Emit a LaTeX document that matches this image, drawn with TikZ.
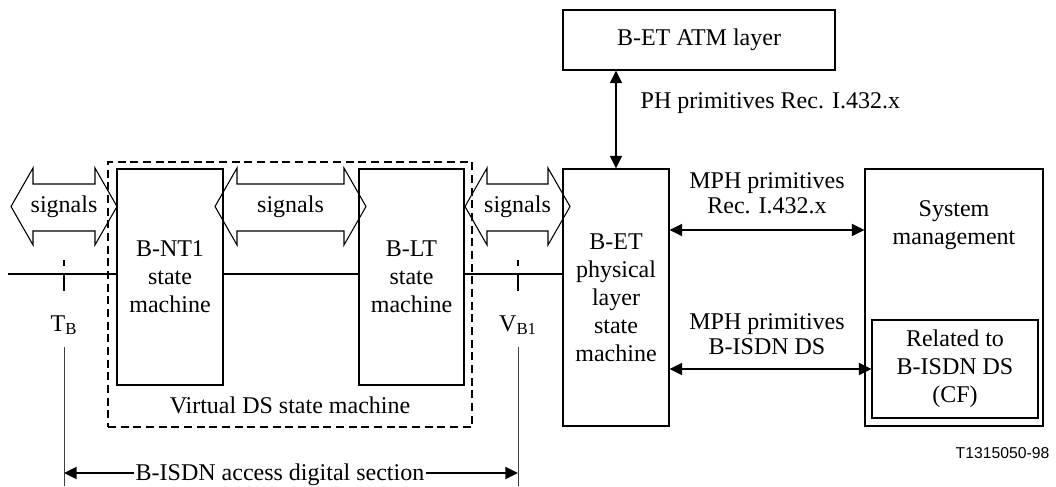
\documentclass[tikz,border=0pt]{standalone}
\usepackage{fontspec}
\setmainfont{Liberation Serif}
\newfontfamily\figsans{Liberation Sans}
\usetikzlibrary{arrows.meta}
\tikzset{
  box/.style={draw, line width=0.8pt, align=center, inner sep=0pt, font=\fontsize{18}{21}\selectfont},
  txt/.style={align=center, font=\fontsize{18}{21}\selectfont},
  prim/.style={align=center, font=\fontsize{18}{19}\selectfont},
  dbl/.style={{Triangle[length=9.5pt,width=9pt]}-{Triangle[length=9.5pt,width=9pt]}, line width=1.5pt},
  sig/.style={line width=0.8pt, line join=miter},
  guide/.style={line width=0.6pt, black!75},
}

\begin{document}
\begin{tikzpicture}[x=0.75pt, y=-0.75pt]
\useasboundingbox (0,0) rectangle (1056,486);
% virtual DS: B-NT1 and B-LT
\node[box, dash pattern=on 6pt off 3.5pt, line width=1.5pt, minimum width=273pt, minimum height=198.75pt] (vds) at (290,294.5) {};
\node[txt] (vdstxt) at (290,405) {Virtual DS state machine};
\node[box, fill=white, minimum width=79.5pt, minimum height=162pt] (bnt1) at (170,277) {B-NT1\\state\\machine};
\node[box, fill=white, minimum width=78.75pt, minimum height=162pt] (blt) at (411.5,277) {B-LT\\state\\machine};
% B-ET side
\node[box, minimum width=79.5pt, minimum height=192.75pt] (bet) at (616,297.5) {B-ET\\physical\\layer\\state\\machine};
\node[box, minimum width=204pt, minimum height=45pt] (atm) at (699,40) {B-ET ATM layer};
\node[box, minimum width=133.5pt, minimum height=192.75pt] (sysm) at (954,297.5) {};
\node[txt] (sysmtxt) at (954,225) {System\\management};
\node[box, minimum width=124.5pt, minimum height=73.5pt] (rel) at (955,369) {Related to\\B-ISDN DS\\(CF)};
% primitives
\draw[dbl] (bet.north) -- (bet.north |- atm.south);
\node[txt, anchor=west] (ph) at (636,103) {PH primitives Rec. I.432.x};
\coordinate (mph) at (767,230);
\draw[dbl] (mph -| bet.east) -- (mph -| sysm.west);
\node[prim] (mphA) at (767,193) {MPH primitives\\Rec. I.432.x};
\draw[dbl] (bet.east |- rel.west) -- (rel.west);
\node[prim] (mphB) at (767,334) {MPH primitives\\B-ISDN DS};
% signals
\foreach \l/\r/\n in {11/117/sigA, 215/366/sigB, 465/570/sigC} {
  \draw[sig] (\l,206.5) -- (\l+22,168) -- (\l+22,184) -- (\r-22,184) -- (\r-22,168) -- (\r,206.5)
    -- (\r-22,245) -- (\r-22,231) -- (\l+22,231) -- (\l+22,245) -- cycle;
  \node[txt] (\n) at ({(\l+\r)/2},206.5) {signals};
}
% line with reference points
\coordinate (lend) at (8,274);
\coordinate (tb) at (64,274);
\coordinate (vb) at (518,274);
\draw[line width=1.5pt] (lend) -- (lend -| bnt1.west);
\draw[line width=1.5pt] (lend -| bnt1.east) -- (lend -| blt.west);
\draw[line width=1.5pt] (lend -| blt.east) -- (lend -| bet.west);
\foreach \p in {tb, vb} {
  \draw[line width=1pt] ([shift={(0,-14)}]\p) -- ([shift={(0,-8)}]\p);
  \draw[line width=1pt] (\p) -- ([shift={(0,17)}]\p);
}
\node[txt] (tbl) at (64,325) {T\textsubscript{B}};
\node[txt] (vbl) at (518,325) {V\textsubscript{B1}};
% access digital section
\draw[guide] ([yshift=-6pt]tbl.south) -- (tbl.south |- 0,486);
\draw[guide] ([yshift=-6pt]vbl.south) -- (vbl.south |- 0,486);
\coordinate (accL) at (64,473);
\coordinate (accR) at (518,473);
\draw[dbl] (accL) -- (accR);
\node[txt, fill=white, inner sep=1pt, anchor=base] (acc) at (280,480) {B-ISDN access digital section};
\node[font=\figsans\fontsize{11.8}{14}\selectfont, anchor=east] (fig) at (1054,453) {T1315050-98};
\end{tikzpicture}
\end{document}
